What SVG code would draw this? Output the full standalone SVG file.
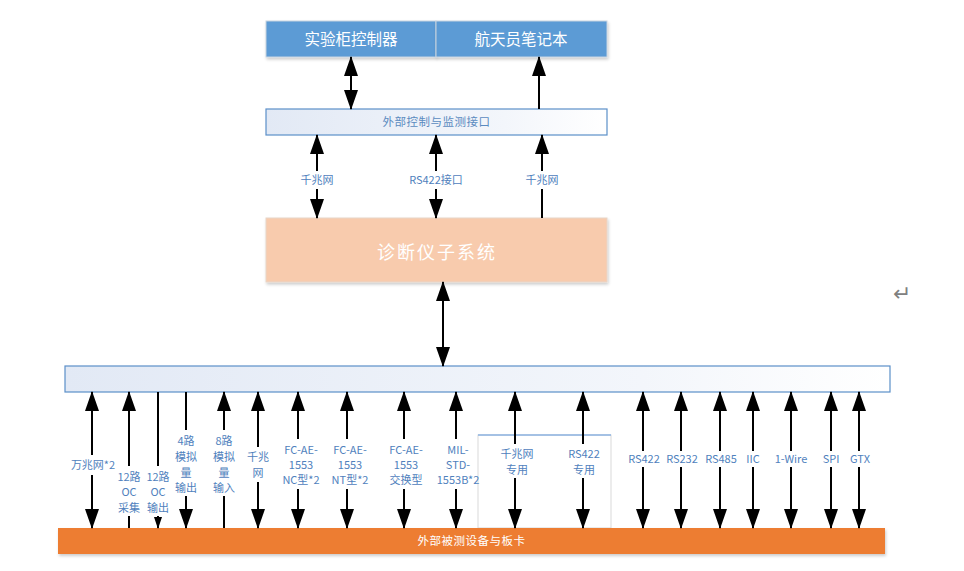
<svg xmlns="http://www.w3.org/2000/svg" width="964" height="571" viewBox="0 0 964 571">
<defs>
<style>
.cn{font-family:"Noto Sans CJK SC","Liberation Sans",sans-serif;}
.lbl{font-family:"Noto Sans CJK SC","Liberation Sans",sans-serif;font-size:11px;fill:#4F81BD;text-anchor:middle;}
.wt{fill:#fff;text-anchor:middle;}
.ln{stroke:#000;stroke-width:2;fill:none;}
.bi{marker-start:url(#ah);marker-end:url(#ah);}
.up{marker-start:url(#ah);}
.dn{marker-end:url(#ah);}
</style>
<marker id="ah" viewBox="0 0 20 14" markerWidth="20" markerHeight="14" refX="19" refY="7" orient="auto-start-reverse" markerUnits="userSpaceOnUse"><path d="M0,0 L20,7 L0,14 z" fill="#000"/></marker>
<marker id="ahs" viewBox="0 0 12 8" markerWidth="12" markerHeight="8" refX="11" refY="4" orient="auto-start-reverse" markerUnits="userSpaceOnUse"><path d="M0,0 L12,4 L0,8 z" fill="#000"/></marker>
<linearGradient id="gb" x1="0" y1="0" x2="1" y2="0"><stop offset="0" stop-color="#E2E9F5"/><stop offset="0.7" stop-color="#F3F6FB"/><stop offset="1" stop-color="#FFFFFF"/></linearGradient>
<filter id="sh" x="-5%" y="-20%" width="110%" height="150%"><feDropShadow dx="1" dy="2" stdDeviation="1.5" flood-color="#000" flood-opacity="0.2"/></filter>
</defs>
<rect width="964" height="571" fill="#fff"/>

<g id="node-controller">
<rect x="266" y="21" width="170" height="36" fill="#5B9BD5" stroke="#C8D3E0" stroke-width="1" filter="url(#sh)"/>
<text class="cn wt" x="351" y="45" font-size="15.5">实验柜控制器</text>
</g>
<g id="node-laptop">
<rect x="436" y="21" width="171" height="36" fill="#5B9BD5" stroke="#C8D3E0" stroke-width="1" filter="url(#sh)"/>
<text class="cn wt" x="521" y="45" font-size="15.5">航天员笔记本</text>
</g>
<g id="node-ext-interface">
<rect x="266" y="109" width="341" height="26" fill="url(#gb)" stroke="#5B8FC9" stroke-width="1.2"/>
<text class="cn" x="436.5" y="126" font-size="11.5" letter-spacing="0.5" fill="#5B8BC0" text-anchor="middle">外部控制与监测接口</text>
</g>
<g id="node-diag">
<rect x="266" y="218" width="341" height="64" fill="#F8CBAD" stroke="#E8D5C8" stroke-width="1" filter="url(#sh)"/>
<text class="cn wt" x="437" y="259" font-size="18" letter-spacing="2">诊断仪子系统</text>
</g>
<g id="node-bus">
<rect x="65" y="366" width="825" height="26" fill="url(#gb)" stroke="#5B8FC9" stroke-width="1.2"/>
</g>
<g id="node-dedicated">
<rect x="478" y="435" width="133" height="93" fill="#fff" stroke="#D9D9D9" stroke-width="1"/>
<line x1="478" y1="435" x2="611" y2="435" stroke="#8DB3E2" stroke-width="1.5"/>
</g>
<g id="node-external">
<rect x="58" y="528" width="827" height="26" fill="#ED7D31" filter="url(#sh)"/>
<text class="cn wt" x="471.5" y="545" font-size="11.5" letter-spacing="0.5">外部被测设备与板卡</text>
</g>

<g id="connectors">
<path class="ln bi" d="M351,57 V109"/>
<path class="ln dn" d="M539,109 V57"/>
<path class="ln bi" d="M317,135 V171 M317,189 V218"/>
<path class="ln bi" d="M436,135 V171 M436,189 V218"/>
<path class="ln dn" d="M542,218 V189 M542,171 V135"/>
<path class="ln bi" d="M443,282 V366"/>

<path class="ln bi" d="M92,392 V455 M92,475 V528"/>
<path class="ln up" d="M129,392 V466 M129,516 V528"/>
<path class="ln" d="M158,392 V466 M158,516 V528" marker-end="url(#ahs)"/>
<path class="ln dn" d="M186,392 V430 M186,496 V528"/>
<path class="ln up" d="M224,392 V430 M224,496 V528"/>
<path class="ln bi" d="M258,392 V447 M258,482 V528"/>
<path class="ln bi" d="M298,392 V439 M298,489 V528"/>
<path class="ln bi" d="M347,392 V439 M347,489 V528"/>
<path class="ln bi" d="M404,392 V439 M404,489 V528"/>
<path class="ln bi" d="M456,392 V439 M456,489 V528"/>
<path class="ln bi" d="M515,392 V444 M515,478 V528"/>
<path class="ln bi" d="M583,392 V444 M583,478 V528"/>
<path class="ln bi" d="M643,392 V451 M643,467 V528"/>
<path class="ln bi" d="M681,392 V451 M681,467 V528"/>
<path class="ln bi" d="M720,392 V451 M720,467 V528"/>
<path class="ln bi" d="M753,392 V451 M753,467 V528"/>
<path class="ln bi" d="M791,392 V451 M791,467 V528"/>
<path class="ln bi" d="M831,392 V451 M831,467 V528"/>
<path class="ln bi" d="M859,392 V451 M859,467 V528"/>
</g>

<g id="labels">
<text class="lbl" x="317" y="184">千兆网</text>
<text class="lbl" x="436" y="184">RS422接口</text>
<text class="lbl" x="542" y="184">千兆网</text>

<text class="lbl" x="93" y="469">万兆网*2</text>
<text class="lbl" x="129"><tspan x="129" y="481">12路</tspan><tspan x="129" y="496">OC</tspan><tspan x="129" y="512">采集</tspan></text>
<text class="lbl" x="158"><tspan x="158" y="481">12路</tspan><tspan x="158" y="496">OC</tspan><tspan x="158" y="512">输出</tspan></text>
<text class="lbl" x="186"><tspan x="186" y="445">4路</tspan><tspan x="186" y="461">模拟</tspan><tspan x="186" y="477">量</tspan><tspan x="186" y="492">输出</tspan></text>
<text class="lbl" x="224"><tspan x="224" y="445">8路</tspan><tspan x="224" y="461">模拟</tspan><tspan x="224" y="477">量</tspan><tspan x="224" y="492">输入</tspan></text>
<text class="lbl" x="258"><tspan x="258" y="461">千兆</tspan><tspan x="258" y="477">网</tspan></text>
<text class="lbl" x="301"><tspan x="301" y="454">FC-AE-</tspan><tspan x="301" y="469">1553</tspan><tspan x="301" y="484">NC型*2</tspan></text>
<text class="lbl" x="350"><tspan x="350" y="454">FC-AE-</tspan><tspan x="350" y="469">1553</tspan><tspan x="350" y="484">NT型*2</tspan></text>
<text class="lbl" x="406"><tspan x="406" y="454">FC-AE-</tspan><tspan x="406" y="469">1553</tspan><tspan x="406" y="484">交换型</tspan></text>
<text class="lbl" x="458"><tspan x="458" y="454">MIL-</tspan><tspan x="458" y="469">STD-</tspan><tspan x="458" y="484">1553B*2</tspan></text>
<text class="lbl" x="517"><tspan x="517" y="458">千兆网</tspan><tspan x="517" y="474">专用</tspan></text>
<text class="lbl" x="584"><tspan x="584" y="458">RS422</tspan><tspan x="584" y="474">专用</tspan></text>
<text class="lbl" x="644" y="463">RS422</text>
<text class="lbl" x="682" y="463">RS232</text>
<text class="lbl" x="721" y="463">RS485</text>
<text class="lbl" x="753" y="463">IIC</text>
<text class="lbl" x="791" y="463">1-Wire</text>
<text class="lbl" x="831" y="463">SPI</text>
<text class="lbl" x="860" y="463">GTX</text>
</g>
<text x="902" y="301" font-family="DejaVu Sans,sans-serif" font-size="22" fill="#808080" text-anchor="middle">↵</text>
</svg>
